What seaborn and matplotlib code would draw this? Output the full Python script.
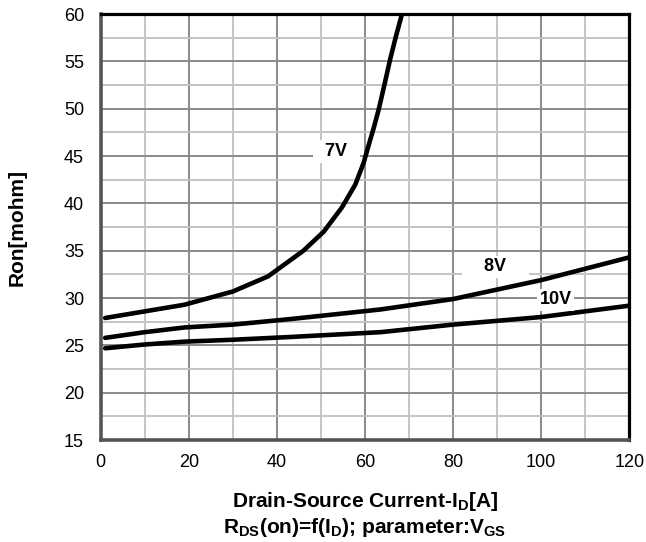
import matplotlib
matplotlib.use("Agg")
import matplotlib.pyplot as plt
import seaborn as sns
import pandas as pd
from matplotlib.ticker import MultipleLocator

# Drain current [A] and on-resistance [mOhm] per gate voltage
id_7v = [1, 10, 19, 30, 38, 46, 50.6, 54.8, 57.8, 59.7, 60.8, 62.0, 63.1, 64.4, 65.7, 67.0, 68.4]
ron_7v = [27.9, 28.6, 29.3, 30.7, 32.3, 35.0, 37.0, 39.6, 42.0, 44.3, 46.1, 48.0, 49.9, 52.5, 55.2, 57.6, 60.0]

id_8v = [1, 10, 19, 30, 43.4, 63.5, 80, 100, 120]
ron_8v = [25.8, 26.4, 26.9, 27.2, 27.8, 28.8, 29.9, 31.9, 34.3]

id_10v = [1, 10, 19, 30, 43.4, 63.5, 80, 100, 120]
ron_10v = [24.7, 25.1, 25.4, 25.6, 25.9, 26.4, 27.2, 28.0, 29.2]

series = ["7V", "8V", "10V"]
label_text = {"7V": "  7V  ", "8V": "    8V    ", "10V": "10V"}
label_pos = {"7V": (53.5, 45.5), "8V": (89.6, 33.3), "10V": (103.3, 29.8)}

frames = []
for name, xs, ys in zip(series, [id_7v, id_8v, id_10v], [ron_7v, ron_8v, ron_10v]):
    frames.append(pd.DataFrame({"ID": xs, "Ron": ys, "VGS": name}))
df = pd.concat(frames, ignore_index=True)

sns.set_style("white")
plt.rcParams["font.family"] = ["Liberation Sans", "DejaVu Sans"]
plt.rcParams["mathtext.default"] = "regular"
plt.rcParams["text.color"] = "black"
plt.rcParams["axes.labelcolor"] = "black"

fig = plt.figure(figsize=(6.46, 5.42), dpi=100)
ax = fig.add_axes([0.156, 0.188, 0.818, 0.786])

ax.xaxis.set_major_locator(MultipleLocator(20))
ax.xaxis.set_minor_locator(MultipleLocator(10))
ax.yaxis.set_major_locator(MultipleLocator(5))
ax.yaxis.set_minor_locator(MultipleLocator(2.5))
ax.grid(which="minor", color="#c4c4c4", linewidth=1.4, zorder=0)
ax.grid(which="major", color="#8a8a8a", linewidth=1.4, zorder=0)
ax.set_axisbelow(True)

sns.lineplot(data=df, x="ID", y="Ron", hue="VGS", palette=["black"] * 3,
             sort=False, estimator=None, linewidth=3.3, legend=False, ax=ax,
             zorder=3)

for name in series:
    lx, ly = label_pos[name]
    ax.text(lx, ly, label_text[name], ha="center", va="center", fontsize=13,
            fontweight="bold", zorder=4,
            bbox=dict(facecolor="white", edgecolor="none", pad=2))

ax.set_xlim(0, 120)
ax.set_ylim(15, 60)
ax.tick_params(axis="both", which="both", length=0, labelsize=13,
               colors="black")
ax.tick_params(axis="y", pad=12)
ax.tick_params(axis="x", pad=10)

for side in ["top", "right"]:
    ax.spines[side].set_color("black")
    ax.spines[side].set_linewidth(2.3)
for side in ["left", "bottom"]:
    ax.spines[side].set_color("#555555")
    ax.spines[side].set_linewidth(2.6)

ax.set_xlabel("Drain-Source Current-I$_D$[A]\nR$_{DS}$(on)=f(I$_D$); parameter:V$_{GS}$",
              fontsize=15, fontweight="bold", linespacing=1.15, va="top")
ax.xaxis.set_label_coords(0.5, -0.118)
ax.set_ylabel("Ron[mohm]", fontsize=15, fontweight="bold")
ax.yaxis.set_label_coords(-0.14, 0.5)

fig.savefig("out.png", dpi=100)
